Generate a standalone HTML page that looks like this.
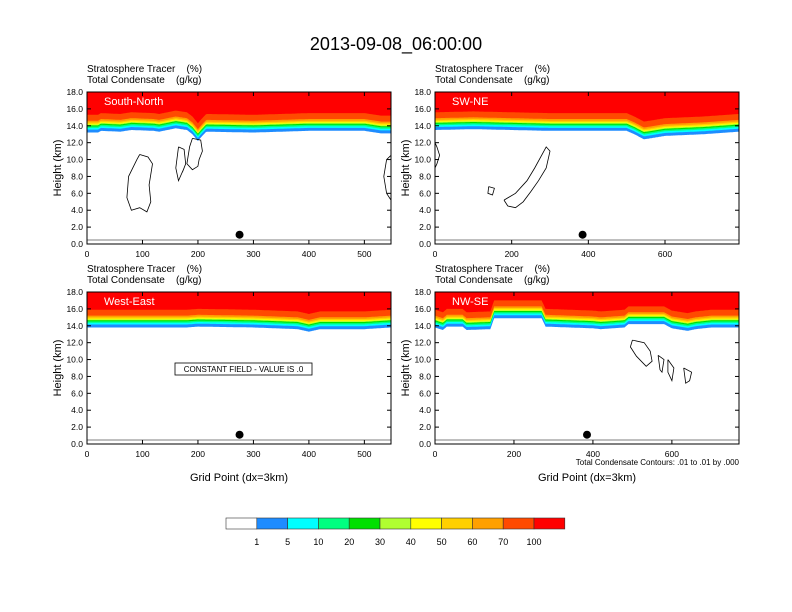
<!DOCTYPE html>
<html><head><meta charset="utf-8"><style>
body{margin:0;background:#fff}
svg{display:block;font-family:"Liberation Sans",sans-serif}
text{white-space:pre}
</style></head><body>
<svg id="c" width="792" height="612" viewBox="0 0 792 612" xmlns="http://www.w3.org/2000/svg">
<text x="396" y="50" font-size="18" text-anchor="middle">2013-09-08_06:00:00</text>
</svg>
<script>
// ---- data ----
const panelNames = ["South-North","SW-NE","West-East","NW-SE"];
const panelXMax = [548, 793, 548, 770];
const xTicks = [[0,100,200,300,400,500],[0,200,400,600],[0,100,200,300,400,500],[0,200,400,600]];
const yTicks = [0,2,4,6,8,10,12,14,16,18];
// tracer base height (km) at sample grid points
const baseX0 = [0,20,25,60,80,120,130,160,180,190,200,205,215,300,400,500,530,548];
const baseH0 = [13.2,13.2,13.4,13.3,13.5,13.4,13.3,13.7,13.5,13.0,12.2,12.6,13.3,13.2,13.4,13.4,13.1,13.1];
const baseX1 = [0,100,200,300,400,500,520,545,560,600,700,793];
const baseH1 = [13.5,13.6,13.5,13.4,13.4,13.4,13.0,12.4,12.5,12.8,13.0,13.3];
const baseX2 = [0,100,180,200,300,380,400,420,500,548];
const baseH2 = [13.8,13.8,13.8,13.9,13.8,13.6,13.3,13.6,13.6,13.8];
const baseX3 = [0,20,30,70,80,140,150,270,280,400,420,480,490,580,600,640,660,700,770];
const baseH3 = [13.8,13.5,13.9,13.9,13.5,13.6,14.9,14.9,13.9,13.7,13.6,13.8,14.2,14.2,13.7,13.4,13.6,13.8,13.8];
const baseXs = [baseX0,baseX1,baseX2,baseX3];
const baseHs = [baseH0,baseH1,baseH2,baseH3];
const levelColors = ["#1e8cff","#00ffff","#00ff80","#00e000","#b0ff30","#ffff00","#ffd000","#ffa000","#ff4a00","#ff0000"];
const levelOffsets = [0,0.35,0.55,0.72,0.85,0.95,1.05,1.2,1.4,2.1];
const legendLabels = ["1","5","10","20","30","40","50","60","70","100"];
// contours: [panel, [x...], [km...]]
const contours = [
 [0,[95,110,118,112,115,108,95,80,72,75,90,95],[10.6,10.3,9.5,7,5,3.8,4.3,4.0,5.5,8,10,10.6]],
 [0,[165,175,178,172,175,165,160,165],[11.5,11.2,9.5,8.5,9,7.5,9,11.5]],
 [0,[190,205,208,202,200,190,180,185,190],[12.5,12.3,11,10,9.2,8.8,9.5,11.5,12.5]],
 [0,[548,540,535,540,548],[10.5,10,8,6,5.2]],
 [1,[180,210,240,260,290,300,290,270,250,230,210,190,180],[5.2,6,7.5,9,11.5,11,9,7.5,6.2,5,4.3,4.5,5.2]],
 [1,[140,155,150,138,140],[6.8,6.6,5.8,6,6.8]],
 [1,[0,5,12,5,0],[12,11.5,10.5,9.5,9]],
 [3,[500,530,545,550,535,510,495,500],[12.3,12,11,9.8,9.2,10.4,11.5,12.3]],
 [3,[565,580,575,570,565],[10.5,10,8.5,8.8,10.5]],
 [3,[590,605,600,590,590],[10,9,7.5,8.5,10]],
 [3,[630,650,645,635,630],[9,8.5,7.5,7.2,9]]
];
const dotX = [275,385,275,385];
const dotH = [1.1,1.1,1.1,1.1];

const svg = document.getElementById('c');
const NS = "http://www.w3.org/2000/svg";
function mk(tag, attrs, parent){const e=document.createElementNS(NS,tag);for(const k in attrs)e.setAttribute(k,attrs[k]);(parent||svg).appendChild(e);return e;}
const boxes = [[87,92,391,244],[435,92,739,244],[87,292,391,444],[435,292,739,444]];
function interp(xs,hs,x){for(let i=0;i<xs.length-1;i++){if(x>=xs[i]&&x<=xs[i+1]){const t=(x-xs[i])/(xs[i+1]-xs[i]);return hs[i]+t*(hs[i+1]-hs[i]);}}return hs[hs.length-1];}

boxes.forEach((b,p)=>{
  const [x0,y0,x1,y1]=b;
  const sx=v=>x0+(x1-x0)*v/panelXMax[p];
  const sy=v=>y1-(y1-y0)*v/18;
  const g=mk('g',{});
  
  
  const t1=mk('text',{x:x0,y:y0-20,'font-size':10},g);t1.textContent="Stratosphere Tracer    (%)";
  
  const t2=mk('text',{x:x0,y:y0-9,'font-size':10},g);t2.textContent="Total Condensate    (g/kg)";
  
  levelColors.forEach((col,li)=>{
    let pts=[[sx(0),sy(18)]];
    for(let gx=0;gx<=panelXMax[p];gx+=2){pts.push([sx(gx),sy(Math.min(18,interp(baseXs[p],baseHs[p],gx)+levelOffsets[li]))]);}
    pts.push([sx(panelXMax[p]),sy(18)]);
    const poly=mk('polygon',{points:pts.map(q=>q[0].toFixed(1)+','+q[1].toFixed(1)).join(' '),fill:col},g);
    
    
  });
  contours.filter(c=>c[0]===p).forEach(c=>{
    const pts=c[1].map((xv,i)=>sx(xv).toFixed(1)+','+sy(c[2][i]).toFixed(1)).join(' ');
    const pl=mk('polyline',{points:pts,fill:'none',stroke:'#000','stroke-width':0.8},g);
    
  });
  const sl=mk('line',{x1:x0,y1:y1-4,x2:x1,y2:y1-4,stroke:'#000','stroke-width':0.6},g);
  
  const d=mk('circle',{cx:sx(dotX[p]),cy:sy(dotH[p]),r:4,fill:'#000'},g);
  
  const fr=mk('rect',{x:x0,y:y0,width:x1-x0,height:y1-y0,fill:'none',stroke:'#000','stroke-width':1},g);
  
  const nl=mk('text',{x:x0+17,y:y0+13,'font-size':11,fill:'#fff'},g);nl.textContent=panelNames[p];
  
  yTicks.forEach(v=>{
    mk('line',{x1:x0,y1:sy(v),x2:x0+4,y2:sy(v),stroke:'#000'},g);
    mk('line',{x1:x1,y1:sy(v),x2:x1-4,y2:sy(v),stroke:'#000'},g);
    const tl=mk('text',{x:x0-4,y:sy(v)+3,'font-size':8.5,'text-anchor':'end'},g);tl.textContent=v.toFixed(1);
    
  });
  xTicks[p].forEach(v=>{
    mk('line',{x1:sx(v),y1:y1,x2:sx(v),y2:y1-4,stroke:'#000'},g);
    mk('line',{x1:sx(v),y1:y0,x2:sx(v),y2:y0+4,stroke:'#000'},g);
    const tl=mk('text',{x:sx(v),y:y1+13,'font-size':8.5,'text-anchor':'middle'},g);tl.textContent=v;
    
  });
  const yt=mk('text',{x:0,y:0,'font-size':11,'text-anchor':'middle',transform:`translate(${x0-26},${(y0+y1)/2}) rotate(-90)`},g);
  yt.textContent="Height (km)";
  
  if(p>=2){
    const xt=mk('text',{x:(x0+x1)/2,y:y1+37,'font-size':11,'text-anchor':'middle'},g);xt.textContent="Grid Point (dx=3km)";
    
  }
});
const cb=mk('rect',{x:175,y:363,width:137,height:12,fill:'#fff',stroke:'#000','stroke-width':0.8});

const ct=mk('text',{x:243.5,y:372,'font-size':8,'text-anchor':'middle'});ct.textContent="CONSTANT FIELD - VALUE IS .0";

const cn=mk('text',{x:739,y:465,'font-size':8,'text-anchor':'end'});cn.textContent="Total Condensate Contours: .01 to .01 by .000";

const lw=30.8, lx=226, ly=518;
["#ffffff"].concat(levelColors).forEach((col,i)=>{
  const r=mk('rect',{x:lx+i*lw,y:ly,width:lw,height:11,fill:col,stroke:'#333','stroke-width':0.6});
  
});
legendLabels.forEach((l,i)=>{
  const t=mk('text',{x:lx+(i+1)*lw,y:ly+27,'font-size':9,'text-anchor':'middle'});t.textContent=l;
  
});
</script>
</body></html>
